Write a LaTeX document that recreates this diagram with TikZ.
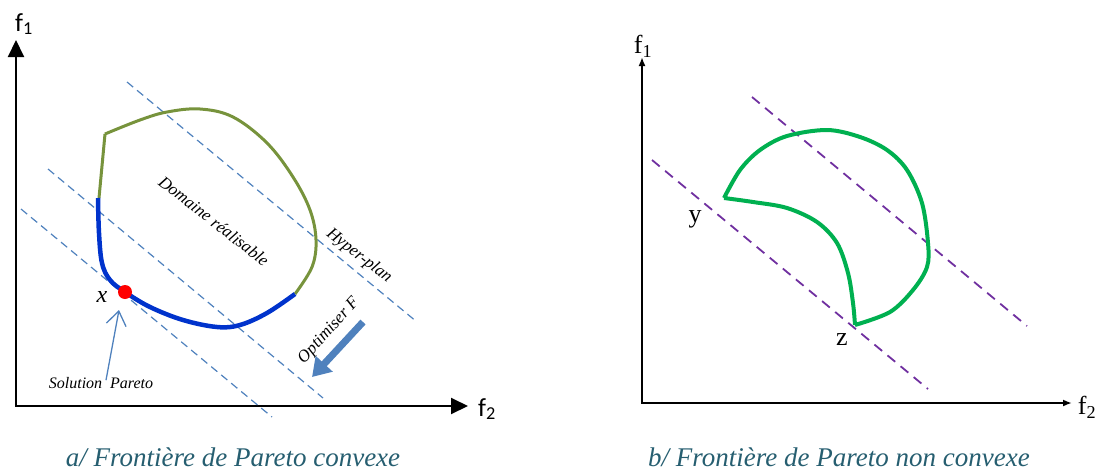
\documentclass[tikz,border=0pt]{standalone}
\usepackage{fontspec}
\setmainfont{Liberation Serif}
\newfontfamily\calib{Carlito}
\usepackage{xcolor}
\usetikzlibrary{arrows.meta, positioning}

\definecolor{hypblue}{RGB}{79,129,189}
\definecolor{olivegreen}{RGB}{119,147,60}
\definecolor{paretoblue}{RGB}{0,51,204}
\definecolor{frontgreen}{RGB}{0,176,80}
\definecolor{hyppurple}{RGB}{112,48,160}
\definecolor{captcol}{RGB}{38,94,112}

\newcommand{\pxfont}[1]{\fontsize{#1}{#1}\selectfont}

\begin{document}
\begin{tikzpicture}[
    x=1pt, y=-1pt,
    axisa/.style={line width=2pt, {Triangle[length=17pt,width=16pt]}-{Triangle[length=17pt,width=16pt]}},
    axisb/.style={line width=1.8pt, {Latex[length=9pt,width=7pt]}-{Latex[length=9pt,width=7pt]}},
    hyperplan/.style={hypblue, line width=1.2pt, dash pattern=on 8pt off 5pt},
    hyperpurple/.style={hyppurple, line width=1.8pt, dash pattern=on 10pt off 7pt},
    lbl/.style={inner sep=0pt, font=\pxfont{17}\itshape},
    axlabel/.style={inner sep=0pt, font=\pxfont{26}},
    caption/.style={inner sep=0pt, text=captcol, font=\pxfont{27}\itshape, anchor=base}
]
\useasboundingbox (0,0) rectangle (1097,471);

% ---- a/ convex front ----
\coordinate (oa) at (16,406);
\coordinate (ya) at (16,40);
\coordinate (xa) at (468,406);
\draw[axisa] (ya) -- (oa) -- (xa);
\node[axlabel, font=\pxfont{26}\calib] (fa1) at (24,24) {f\textsubscript{1}};
\node[axlabel, font=\pxfont{26}\calib] (fa2) at (487,409) {f\textsubscript{2}};

% Hyper-plans
\draw[hyperplan] (127,82) -- (417,322);
\draw[hyperplan] (48,169) -- (323,398);
\draw[hyperplan] (21,209) -- (272,417);

% Feasible domain
\draw[olivegreen, line width=3pt, line join=round]
    (99,198) -- (105,134)
    plot[smooth, tension=0.6] coordinates {(105,134) (140,120) (167,112) (200,109) (233,117) (267,143) (293,177) (310,210) (316,240) (312,267) (295,294)};
\draw[paretoblue, line width=4.5pt]
    plot[smooth, tension=0.6] coordinates {(98,198) (99,233) (102,263) (110,280) (125,292) (150,307) (183,320) (217,327) (240,325) (267,313) (295,294)};
\fill[red] (125,292) circle (7pt);

\node[lbl, rotate=-38] (dom) at (214,221) {Domaine réalisable};
\node[lbl, rotate=-38] (hyp) at (359,256) {Hyper-plan};
\node[lbl, rotate=48] (opt) at (329,331) {Optimiser F};
\node[inner sep=0pt, font=\pxfont{24}\itshape] (xpt) at (102,297) {x};
\node[inner sep=0pt, font=\pxfont{16}\itshape] (sol) at (101,383) {Solution\ \ Pareto};

\coordinate (ftop) at (363,322);
\coordinate (fbot) at (312,377);
\draw[hypblue, line width=7pt, -{Triangle[length=18pt,width=22pt]}] (ftop) -- (fbot);
\coordinate (xtip) at (119,310);
\draw[hypblue, line width=1.3pt, -{Straight Barb[length=14pt,width=20pt]}] ([xshift=5pt,yshift=-3pt]sol.north) -- (xtip);

% ---- b/ non convex front ----
\coordinate (ob) at (642,403);
\coordinate (yb) at (642,57);
\coordinate (xb) at (1072,403);
\draw[axisb] (yb) -- (ob) -- (xb);
\node[axlabel] (fb1) at (643,46) {f\textsubscript{1}};
\node[axlabel] (fb2) at (1087,407) {f\textsubscript{2}};

\draw[hyperpurple] (752,97) -- (1027,326);
\draw[hyperpurple] (652,160) -- (928,389);

\draw[frontgreen, line width=4pt, line join=round]
    plot[smooth, tension=0.55] coordinates {(724,198) (740,170) (760,150) (787,136) (827,130) (860,137) (887,150) (907,170) (922,203) (928,243) (927,267) (913,290) (890,312) (855,325)}
    plot[smooth, tension=0.55] coordinates {(855,325) (853,303) (848,273) (837,243) (817,222) (787,208) (753,202) (724,198)};

\node[inner sep=0pt, font=\pxfont{26}] (ylab) at (695,219) {y};
\node[inner sep=0pt, font=\pxfont{26}] (zlab) at (842,340) {z};

% Captions
\node[caption] (capa) at (233,466) {a/ Frontière de Pareto convexe};
\node[caption] (capb) at (839,466) {b/ Frontière de Pareto non convexe};
\end{tikzpicture}
\end{document}
